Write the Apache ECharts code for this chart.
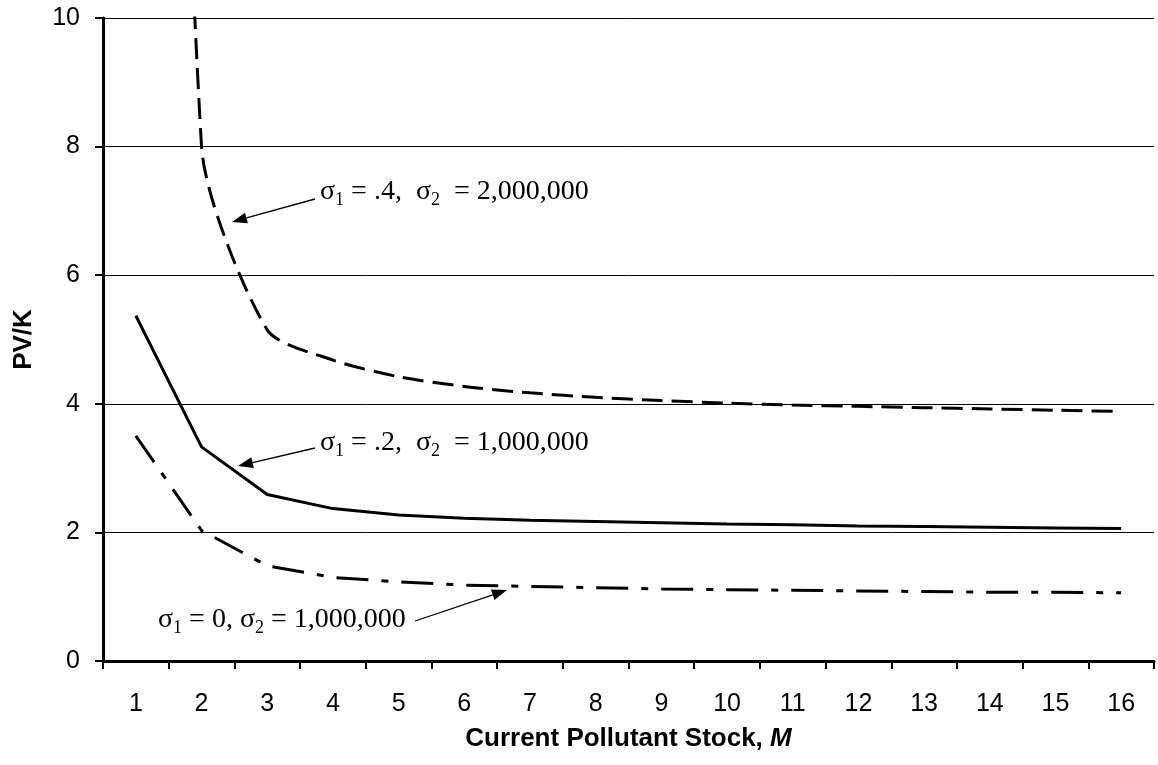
<!DOCTYPE html>
<html>
<head>
<meta charset="utf-8">
<title>PV/K vs current pollutant stock</title>
<script src="https://cdn.jsdelivr.net/npm/echarts@6/dist/echarts.min.js"></script>
<style>
html, body { margin: 0; padding: 0; background: #fff; }
#chart { width: 1158px; height: 765px; }
</style>
</head>
<body>
<div id="chart"></div>
<script>
// categories: current pollutant stock M
var stock = ['1', '2', '3', '4', '5', '6', '7', '8', '9', '10', '11', '12', '13', '14', '15', '16'];

// PV/K for the three cases (first value of sigma1=.4 runs off the top of the chart)
var pvSigma04 = [40, 8.0, 5.15, 4.68, 4.42, 4.27, 4.17, 4.10, 4.05, 4.01, 3.98, 3.96, 3.94, 3.92, 3.90, 3.88];
var pvSigma02 = [5.37, 3.33, 2.59, 2.37, 2.27, 2.22, 2.19, 2.17, 2.15, 2.13, 2.12, 2.10, 2.09, 2.08, 2.07, 2.06];
var pvSigma0 = [3.50, 2.03, 1.48, 1.30, 1.23, 1.18, 1.16, 1.14, 1.12, 1.11, 1.10, 1.09, 1.08, 1.07, 1.07, 1.06];

var yMin = 0, yMax = 10, yStep = 2;

var sans = 'Liberation Sans, Arial, sans-serif';
var serif = 'Liberation Serif, Times New Roman, serif';

var chart = echarts.init(document.getElementById('chart'));

function arrow(x1, y1, x2, y2) {
    var a = Math.atan2(y2 - y1, x2 - x1);
    var len = 15, half = 5.5;
    var bx = x2 - len * Math.cos(a), by = y2 - len * Math.sin(a);
    return [
        { type: 'line', silent: true, shape: { x1: x1, y1: y1, x2: bx, y2: by },
          style: { stroke: '#000', lineWidth: 1.3 } },
        { type: 'polygon', silent: true,
          shape: { points: [[x2, y2],
                            [bx - half * Math.sin(a), by + half * Math.cos(a)],
                            [bx + half * Math.sin(a), by - half * Math.cos(a)]] },
          style: { fill: '#000' } }
    ];
}

var labelRich = {
    t: { fontFamily: serif, fontSize: 28, lineHeight: 34, fill: '#000' },
    s: { fontFamily: serif, fontSize: 18, lineHeight: 18, verticalAlign: 'bottom', fill: '#000' }
};

function note(x, y, txt) {
    return { type: 'text', silent: true,
             style: { x: x, y: y, text: txt, rich: labelRich, verticalAlign: 'middle', align: 'left' } };
}

var graphics = []
    .concat(arrow(315, 199, 232, 222))
    .concat(arrow(315, 448, 238, 466))
    .concat(arrow(415, 621, 507, 590))
    .concat([
        note(320, 192, '{t|σ}{s|1}{t| = .4,  σ}{s|2}{t|  = 2,000,000}'),
        note(320, 443, '{t|σ}{s|1}{t| = .2,  σ}{s|2}{t|  = 1,000,000}'),
        note(158, 620, '{t|σ}{s|1}{t| = 0, σ}{s|2}{t| = 1,000,000}')
    ]);

var option = {
    animation: false,
    backgroundColor: '#fff',
    grid: { left: 103, right: 4, top: 18, bottom: 104, containLabel: false, outerBoundsMode: 'none' },
    xAxis: {
        type: 'category',
        data: stock,
        boundaryGap: true,
        name: 'Current Pollutant Stock, {i|M}',
        nameLocation: 'middle',
        nameGap: 65,
        nameTextStyle: {
            fontFamily: sans, fontSize: 26, fontWeight: 'bold', color: '#000',
            rich: { i: { fontFamily: sans, fontSize: 26, fontWeight: 'bold', fontStyle: 'italic', color: '#000' } }
        },
        axisLine: { show: true, lineStyle: { color: '#000', width: 3 } },
        axisTick: { show: true, alignWithLabel: false, interval: 0, length: 8, lineStyle: { color: '#000', width: 2 } },
        axisLabel: { show: true, interval: 0, margin: 31, fontFamily: sans, fontSize: 25, color: '#000' },
        splitLine: { show: false }
    },
    yAxis: {
        type: 'value',
        min: yMin,
        max: yMax,
        interval: yStep,
        name: 'PV/K',
        nameLocation: 'middle',
        nameRotate: 90,
        nameGap: 66,
        nameTextStyle: { fontFamily: sans, fontSize: 26, fontWeight: 'bold', color: '#000' },
        axisLine: { show: true, lineStyle: { color: '#000', width: 3 } },
        axisTick: { show: true, inside: false, length: 8, lineStyle: { color: '#000', width: 2 } },
        axisLabel: { show: true, margin: 23, fontFamily: sans, fontSize: 25, color: '#000' },
        splitLine: { show: true, lineStyle: { color: '#000', width: 1 } }
    },
    series: [
        {
            name: 'sigma1 = .4, sigma2 = 2,000,000',
            type: 'line',
            data: pvSigma04,
            symbol: 'none',
            smooth: 0.25,
            clip: true,
            silent: true,
            lineStyle: { color: '#000', width: 3, type: [21, 9] }
        },
        {
            name: 'sigma1 = .2, sigma2 = 1,000,000',
            type: 'line',
            data: pvSigma02,
            symbol: 'none',
            clip: true,
            silent: true,
            lineStyle: { color: '#000', width: 3, type: 'solid' }
        },
        {
            name: 'sigma1 = 0, sigma2 = 1,000,000',
            type: 'line',
            data: pvSigma0,
            symbol: 'none',
            clip: true,
            silent: true,
            lineStyle: { color: '#000', width: 3, type: [32, 13, 7, 13] }
        }
    ],
    graphic: graphics
};

chart.setOption(option);
</script>
</body>
</html>
